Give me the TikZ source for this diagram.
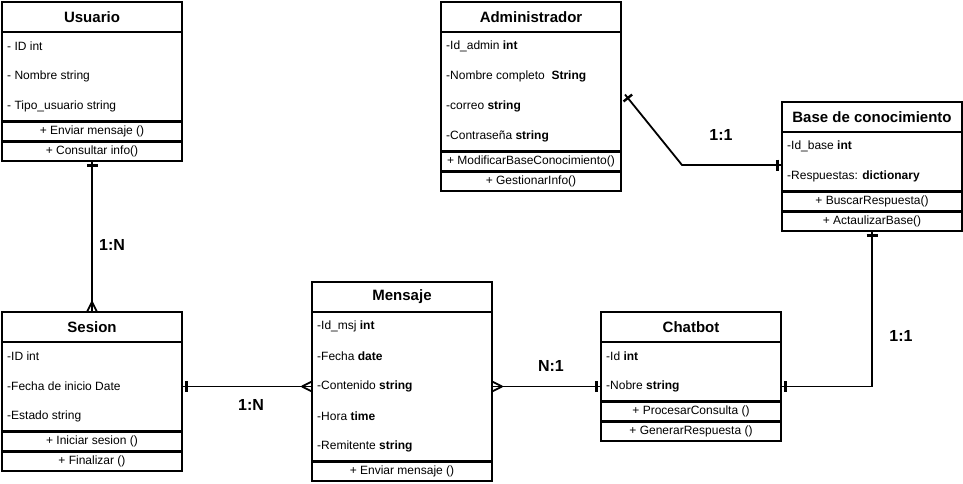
\documentclass[tikz,border=0pt]{standalone}
\usepackage{fontspec}
\setmainfont{Liberation Sans}
\usetikzlibrary{decorations.markings}
\tikzset{
  comp/.style={draw, line width=1.2pt, inner sep=0pt, outer sep=0pt, anchor=north west, minimum width=180pt},
  hdr/.style={comp, minimum height=30pt},
  ttl/.style={font=\bfseries\fontsize{15}{18}\selectfont, inner sep=0pt},
  attr/.style={anchor=west, inner sep=0pt, font=\fontsize{12}{14}\selectfont, yshift=-1pt},
  meth/.style={inner sep=0pt, font=\fontsize{12}{14}\selectfont},
  lbl/.style={font=\bfseries\fontsize{16}{19}\selectfont, inner sep=0pt},
  conn/.style={line width=1.8pt},
  tickln/.style={line width=2.4pt},
  onestart/.style={postaction={decorate,decoration={markings,mark=at position 4.5pt with {\draw[tickln] (0,-5.5)--(0,5.5);}}}},
  oneend/.style={postaction={decorate,decoration={markings,mark=at position -4.5pt with {\draw[tickln] (0,-5.5)--(0,5.5);}}}},
  manystart/.style={postaction={decorate,decoration={markings,mark=at position 0.1pt with {\draw[conn] (10,0)--(0,5) (10,0)--(0,-5);}}}},
  manyend/.style={postaction={decorate,decoration={markings,mark=at position -0.1pt with {\draw[conn] (-10,0)--(0,5) (-10,0)--(0,-5);}}}},
}
\begin{document}
\begin{tikzpicture}[x=1pt,y=-1pt]
\useasboundingbox (0,0) rectangle (963,483);

% ---------- Usuario ----------
\node[hdr] (uh) at (2,2) {};
\node[ttl] (ut) at (uh.center) {Usuario};
\node[comp, minimum height=89pt] (ua) at (2,32) {};
\node[attr] (ua1) at (7,45) {- ID int};
\node[attr] (ua2) at (7,75) {- Nombre string};
\node[attr] (ua3) at (7,105) {- Tipo\_usuario string};
\node[comp, minimum height=19pt] (um1) at (2,122) {};
\node[meth] (um1t) at (um1.center) {+ Enviar mensaje ()};
\node[comp, minimum height=19pt] (um2) at (2,142) {};
\node[meth] (um2t) at (um2.center) {+ Consultar info()};

% ---------- Administrador ----------
\node[hdr] (ah) at (441,2) {};
\node[ttl] (at) at (ah.center) {Administrador};
\node[comp, minimum height=119pt] (aa) at (441,32) {};
\node[attr] (aa1) at (446,45) {-Id\_admin \textbf{int}};
\node[attr] (aa2) at (446,75) {-Nombre completo\ \ \textbf{String}};
\node[attr] (aa3) at (446,105) {-correo \textbf{string}};
\node[attr] (aa4) at (446,135) {-Contraseña \textbf{string}};
\node[comp, minimum height=19pt] (am1) at (441,152) {};
\node[meth] (am1t) at (am1.center) {+ ModificarBaseConocimiento()};
\node[comp, minimum height=19pt] (am2) at (441,172) {};
\node[meth] (am2t) at (am2.center) {+ GestionarInfo()};

% ---------- Base de conocimiento ----------
\node[hdr] (bh) at (782,102) {};
\node[ttl] (bt) at (bh.center) {Base de conocimiento};
\node[comp, minimum height=59pt] (ba) at (782,132) {};
\node[attr] (ba1) at (787,145) {-Id\_base \textbf{int}};
\node[attr] (ba2) at (787,175) {-Respuestas: \textbf{dictionary}};
\node[comp, minimum height=19pt] (bm1) at (782,192) {};
\node[meth] (bm1t) at (bm1.center) {+ BuscarRespuesta()};
\node[comp, minimum height=19pt] (bm2) at (782,212) {};
\node[meth] (bm2t) at (bm2.center) {+ ActaulizarBase()};

% ---------- Sesion ----------
\node[hdr] (sh) at (2,312) {};
\node[ttl] (st) at (sh.center) {Sesion};
\node[comp, minimum height=89pt] (sa) at (2,342) {};
\node[attr] (sa1) at (7,355) {-ID int};
\node[attr] (sa2) at (7,385) {-Fecha de inicio Date};
\node[attr] (sa3) at (7,415) {-Estado string};
\node[comp, minimum height=19pt] (sm1) at (2,432) {};
\node[meth] (sm1t) at (sm1.center) {+ Iniciar sesion ()};
\node[comp, minimum height=19pt] (sm2) at (2,452) {};
\node[meth] (sm2t) at (sm2.center) {+ Finalizar ()};

% ---------- Mensaje ----------
\node[hdr] (mh) at (312,282) {};
\node[ttl] (mt) at (mh.center) {Mensaje};
\node[comp, minimum height=149pt] (ma) at (312,312) {};
\node[attr] (ma1) at (317,325) {-Id\_msj \textbf{int}};
\node[attr] (ma2) at (317,355) {-Fecha \textbf{date}};
\node[attr] (ma3) at (317,385) {-Contenido \textbf{string}};
\node[attr] (ma4) at (317,415) {-Hora \textbf{time}};
\node[attr] (ma5) at (317,445) {-Remitente \textbf{string}};
\node[comp, minimum height=19pt] (mm1) at (312,462) {};
\node[meth] (mm1t) at (mm1.center) {+ Enviar mensaje ()};

% ---------- Chatbot ----------
\node[hdr] (ch) at (601,312) {};
\node[ttl] (ct) at (ch.center) {Chatbot};
\node[comp, minimum height=59pt] (ca) at (601,342) {};
\node[attr] (ca1) at (606,355) {-Id \textbf{int}};
\node[attr] (ca2) at (606,385) {-Nobre \textbf{string}};
\node[comp, minimum height=19pt] (cm1) at (601,402) {};
\node[meth] (cm1t) at (cm1.center) {+ ProcesarConsulta ()};
\node[comp, minimum height=19pt] (cm2) at (601,422) {};
\node[meth] (cm2t) at (cm2.center) {+ GenerarRespuesta ()};

% ---------- Connectors ----------
\draw[conn, onestart, manyend] (um2.south) -- (sh.north);
\node[lbl] (l1) at (112,245) {1:N};

\draw[conn, onestart, manyend] (sa.east) -- (ma.west);
\node[lbl] (l2) at (251,405) {1:N};

\draw[conn, manystart, oneend] (ma.east) -- (ma.east -| ca.west);
\node[lbl] (l3) at (551,366) {N:1};

\draw[conn, onestart, oneend] (ma.east -| ca.east) -| (bm2.south);
\node[lbl] (l4) at (901,336) {1:1};

\coordinate (as) at ([xshift=4pt,yshift=-3pt]aa.east);
\coordinate (wp) at (682,165);
\draw[conn, onestart, oneend] (as) -- (wp) -- (wp -| ba.west);
\node[lbl] (l5) at (721,135) {1:1};
\end{tikzpicture}
\end{document}
